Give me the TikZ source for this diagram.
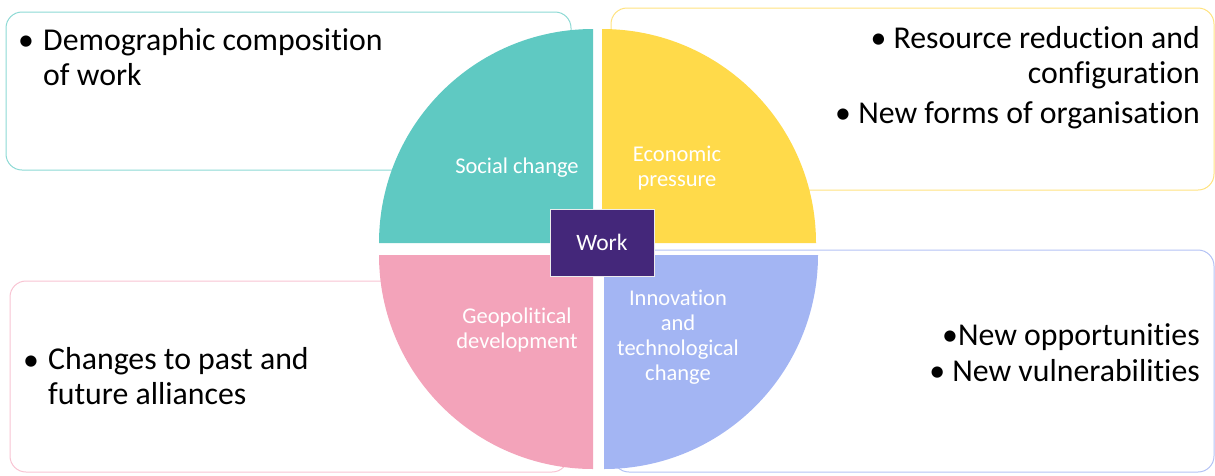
\documentclass[tikz,border=0pt]{standalone}
\usepackage{fontspec}
\setmainfont[Ligatures=NoCommon]{Carlito}
\usepackage{xcolor}
\usepackage{tikz}
\usetikzlibrary{calc}
\usetikzlibrary{shapes}
\usetikzlibrary{positioning}
\definecolor{socteal}{HTML}{5FC9C2}
\definecolor{ecoyellow}{HTML}{FFDA4A}
\definecolor{geopink}{HTML}{F3A3BA}
\definecolor{innblue}{HTML}{A3B5F3}
\definecolor{workpurple}{HTML}{44277A}
\definecolor{socline}{HTML}{8CD9D4}
\definecolor{ecoline}{HTML}{FFE27F}
\definecolor{geoline}{HTML}{F8C3D2}
\definecolor{innline}{HTML}{B3C2F4}
\tikzstyle{itembox} = [rounded corners=16pt, line width=1pt]
\tikzstyle{bigtext} = [font=\fontsize{31.8}{34.5}\selectfont, text=black, inner sep=0pt]
\tikzstyle{quadtext} = [font=\fontsize{22.5}{25}\selectfont, text=white, align=center, inner sep=0pt]

\begin{document}
\begin{tikzpicture}[x=1pt, y=-1pt]
\useasboundingbox (0,0) rectangle (1215,475);
% outline boxes
\draw [itembox, draw=socline] (6,12) rectangle (571,170);
\draw [itembox, draw=ecoline] (611,8) rectangle (1214,190);
\draw [itembox, draw=geoline] (10,281) rectangle (568,472);
\draw [itembox, draw=innline] (613,250) rectangle (1214,472);
% quarter discs
\fill [socteal] (593,243) -- (379,243) arc (180:270:214) -- cycle;
\fill [ecoyellow] (602,243) -- (816,243) arc (0:-90:214) -- cycle;
\fill [geopink] (593,255) -- (379,255) arc (180:90:214) -- cycle;
\fill [innblue] (604,255) -- (818,255) arc (0:90:214) -- cycle;
\node [quadtext] (soc) at (517,168) {Social change};
\node [quadtext] (eco) at (677,168) {Economic\\pressure};
\node [quadtext] (geo) at (517,330) {Geopolitical\\development};
\node [quadtext] (inn) at (678,337) {Innovation\\and\\technological\\change};
\node [rectangle, fill=workpurple, draw=white!85!gray, line width=1pt, minimum width=104pt, minimum height=67pt, text=white, font=\fontsize{23.5}{25}\selectfont] (W) at (602,242.5) {Work};
% bullet texts (base = last line)
\node [bigtext, anchor=base west] (socdot) at (18,50) {•};
\node [bigtext, anchor=base west, align=left] (soctxt) at (43,85) {Demographic composition\\of work};
\node [bigtext, anchor=base east, align=right] (ecotxt1) at (1200,83) {• Resource reduction and\\configuration};
\node [bigtext, anchor=base east] (ecotxt2) at (1200,123) {• New forms of organisation};
\node [bigtext, anchor=base west] (geodot) at (23,370) {•};
\node [bigtext, anchor=base west, align=left] (geotxt) at (48,404) {Changes to past and\\future alliances};
\node [bigtext, anchor=base east] (inntxt1) at (1200,345) {•New opportunities};
\node [bigtext, anchor=base east] (inntxt2) at (1200,381) {• New vulnerabilities};
\end{tikzpicture}
\end{document}
